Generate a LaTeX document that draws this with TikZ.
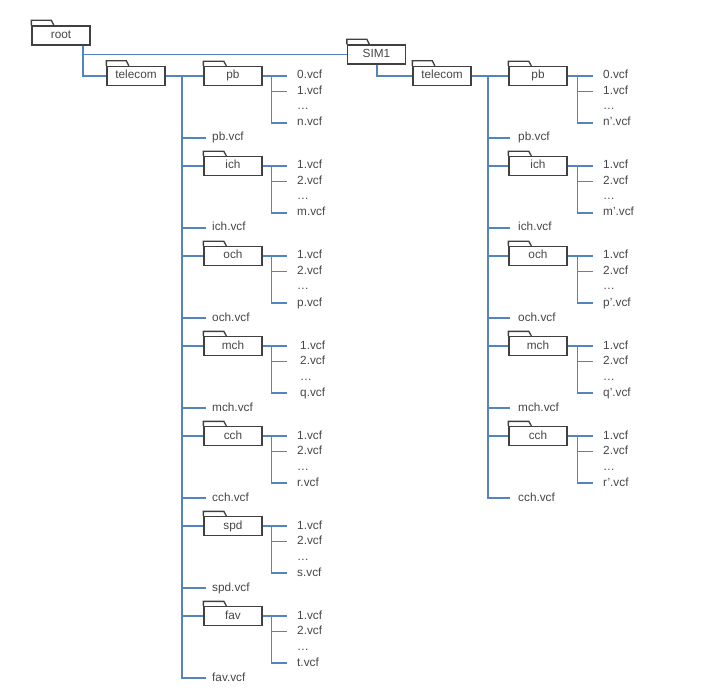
\documentclass[tikz,border=0pt]{standalone}
\usepackage{fontspec}
\setmainfont{Liberation Sans}
\definecolor{wireblue}{RGB}{84,132,192}
\definecolor{ink}{RGB}{70,70,70}
\definecolor{frame}{RGB}{64,64,64}
\begin{document}
\begin{tikzpicture}[x=1pt,y=-1pt,
  txt/.style={text=ink, font=\fontsize{11.8}{13}\selectfont},
  folder/.style={txt, draw=frame, line width=1.3pt, minimum width=58pt,
    minimum height=19pt, inner sep=0pt, text height=8.5pt, text depth=2.5pt},
  tabline/.style={draw=frame, line width=1.3pt},
  link/.style={draw=wireblue, line width=1.1pt},
  leaf/.style={txt, anchor=west, inner xsep=#1, inner ysep=0pt,
    text height=8.5pt, text depth=2.5pt},
  leaf/.default=10pt,
]
\useasboundingbox (0,0) rectangle (724,690);

% top level folders
\node[folder] (root) at (61,35.5) {root};
\node[folder] (sim) at (376.5,54.5) {SIM1};
\node[folder] (telL) at (136,76) {telecom};
\node[folder] (telR) at (442,76) {telecom};
\foreach \n in {root,sim,telL,telR}
  \draw[tabline] (\n.north west) -- ++(0,-5) -- ++(20,0) -- ++(2.5,5);

\coordinate (rootdrop) at ([xshift=22pt]root.south);
\coordinate (simdrop) at ([xshift=0.5pt]sim.south);
\draw[link] (rootdrop) |- (telL.west);
\draw[link] (rootdrop) |- (sim.west);
\draw[link] (simdrop) |- (telR.west);

% left telecom tree
\coordinate (trunkL) at (182,76);
\foreach \nm/\y/\a/\b/\last/\dx in {pb/76/0/1/n/0, ich/166/1/2/m/0,
    och/256/1/2/p/0, mch/346/1/2/q/3, cch/436/1/2/r/0, spd/526/1/2/s/0,
    fav/616/1/2/t/0} {
  \node[folder] (L\nm) at (233,\y) {\nm};
  \draw[tabline] (L\nm.north west) -- ++(0,-4.5) -- ++(20.5,0) -- ++(2.5,4.5);
  \draw[link] (trunkL |- L\nm.west) -- (L\nm.west);
  \coordinate (L\nm s) at ([xshift=9pt]L\nm.east);
  \node[leaf={10pt+\dx pt}] (L\nm a) at (287,\y) {\a.vcf};
  \node[leaf={10pt+\dx pt}] (L\nm b) at (287,{\y+15.5}) {\b.vcf};
  \node[leaf={10pt+\dx pt}] (L\nm c) at (287,{\y+31}) {…};
  \node[leaf={10pt+\dx pt}] (L\nm d) at (287,{\y+47}) {\last.vcf};
  \draw[link] (L\nm.east) -- (L\nm a.west);
  \draw[link] (L\nm s) |- (L\nm d.west);
  \draw[link] (L\nm s |- L\nm b.west) -- (L\nm b.west);
  \node[leaf=6pt] (L\nm f) at (206,{\y+62}) {\nm.vcf};
  \draw[link] (trunkL |- L\nm f.west) -- (L\nm f.west);
}
\draw[link] (telL.east) -- (Lpb.west);
\draw[link] (trunkL) |- (Lfavf.west);

% right telecom tree
\coordinate (trunkR) at (488,76);
\foreach \nm/\y/\a/\b/\last in {pb/76/0/1/n’, ich/166/1/2/m’,
    och/256/1/2/p’, mch/346/1/2/q’, cch/436/1/2/r’} {
  \node[folder] (R\nm) at (538,\y) {\nm};
  \draw[tabline] (R\nm.north west) -- ++(0,-4.5) -- ++(20.5,0) -- ++(2.5,4.5);
  \draw[link] (trunkR |- R\nm.west) -- (R\nm.west);
  \coordinate (R\nm s) at ([xshift=10pt]R\nm.east);
  \node[leaf] (R\nm a) at (593,\y) {\a.vcf};
  \node[leaf] (R\nm b) at (593,{\y+15.5}) {\b.vcf};
  \node[leaf] (R\nm c) at (593,{\y+31}) {…};
  \node[leaf] (R\nm d) at (593,{\y+47}) {\last.vcf};
  \draw[link] (R\nm.east) -- (R\nm a.west);
  \draw[link] (R\nm s) |- (R\nm d.west);
  \draw[link] (R\nm s |- R\nm b.west) -- (R\nm b.west);
  \node[leaf=8pt] (R\nm f) at (510,{\y+62}) {\nm.vcf};
  \draw[link] (trunkR |- R\nm f.west) -- (R\nm f.west);
}
\draw[link] (telR.east) -- (Rpb.west);
\draw[link] (trunkR) |- (Rcchf.west);
\end{tikzpicture}
\end{document}
